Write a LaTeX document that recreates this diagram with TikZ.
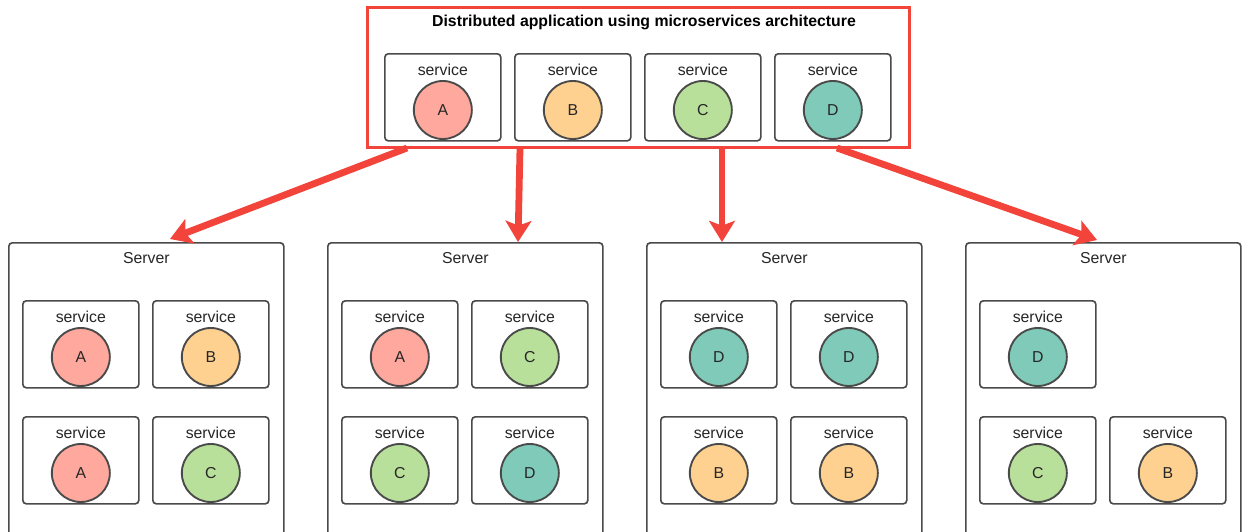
\documentclass[tikz,border=0pt]{standalone}
\usepackage{fontspec}
\setmainfont{Liberation Sans}
\usepackage{xcolor}
\definecolor{svcRed}{HTML}{FFA99E}
\definecolor{svcOrange}{HTML}{FFD191}
\definecolor{svcGreen}{HTML}{B8E09B}
\definecolor{svcTeal}{HTML}{80CAB9}
\definecolor{boxLine}{HTML}{4A4A4A}
\definecolor{flowRed}{HTML}{F2443A}
\usetikzlibrary{arrows.meta,positioning,calc}

% one service: box, label and ball (id, left x, top y, letter, colour)
\newcommand{\service}[5]{%
  \node[svcbox, anchor=north west] (#1) at (#2,#3) {};
  \node[svctext] (#1-txt) at ($(#1.north)+(0,17)$) {service};
  \node[svcball, fill=#5] (#1-ball) at ($(#1.north)+(0,57)$) {#4};
}

\begin{document}
\begin{tikzpicture}[
  x=0.03cm, y=-0.03cm,
  font=\fontsize{13.5}{16}\selectfont,
  svcbox/.style={draw=boxLine, line width=1.4pt, rounded corners=3pt, fill=white, minimum width=3.48cm, minimum height=2.61cm, inner sep=0pt},
  svctext/.style={inner sep=0pt, text=black!85},
  svcball/.style={circle, draw=boxLine, line width=1.6pt, minimum size=1.74cm, inner sep=0pt, text=black!85},
  serverbox/.style={draw=boxLine, line width=1.4pt, rounded corners=3pt, fill=white, minimum width=8.25cm, minimum height=9.3cm, inner sep=0pt},
  flow/.style={draw=flowRed, line width=5.8pt, -{Stealth[length=18pt, width=22pt, inset=4pt]}}
]
\useasboundingbox (0,0) rectangle (1242,531);
\clip (0,0) rectangle (1242,531);

% Application box
\node[draw=flowRed, line width=2.8pt, fill=white, anchor=north west, minimum width=16.26cm, minimum height=4.2cm, inner sep=0pt] (app) at (366,6) {};
\node[font=\fontsize{13.5}{16}\selectfont\bfseries] (apptitle) at (644,22) {Distributed application using microservices architecture};
\service{appA}{384}{53}{A}{svcRed}
\service{appB}{514}{53}{B}{svcOrange}
\service{appC}{644}{53}{C}{svcGreen}
\service{appD}{774}{53}{D}{svcTeal}

% Servers
\node[serverbox, anchor=north west] (srv1) at (8,242) {};
\node[serverbox, anchor=north west] (srv2) at (327,242) {};
\node[serverbox, anchor=north west] (srv3) at (646,242) {};
\node[serverbox, anchor=north west] (srv4) at (965,242) {};
\node[svctext] (srv1-txt) at ($(srv1.north)+(0,16)$) {Server};
\node[svctext] (srv2-txt) at ($(srv2.north)+(0,16)$) {Server};
\node[svctext] (srv3-txt) at ($(srv3.north)+(0,16)$) {Server};
\node[svctext] (srv4-txt) at ($(srv4.north)+(0,16)$) {Server};

% Services on server 1
\service{s1a}{22}{300}{A}{svcRed}
\service{s1b}{152}{300}{B}{svcOrange}
\service{s1c}{22}{416}{A}{svcRed}
\service{s1d}{152}{416}{C}{svcGreen}

% Services on server 2
\service{s2a}{341}{300}{A}{svcRed}
\service{s2b}{471}{300}{C}{svcGreen}
\service{s2c}{341}{416}{C}{svcGreen}
\service{s2d}{471}{416}{D}{svcTeal}

% Services on server 3
\service{s3a}{660}{300}{D}{svcTeal}
\service{s3b}{790}{300}{D}{svcTeal}
\service{s3c}{660}{416}{B}{svcOrange}
\service{s3d}{790}{416}{B}{svcOrange}

% Services on server 4
\service{s4a}{979}{300}{D}{svcTeal}
\service{s4c}{979}{416}{C}{svcGreen}
\service{s4d}{1109}{416}{B}{svcOrange}

% Deployment arrows
\coordinate (out1) at (407,148);
\coordinate (out2) at (520,148);
\coordinate (out3) at (722,148);
\coordinate (out4) at (837,148);
\coordinate (in1) at (170,239);
\coordinate (in2) at (518,242);
\coordinate (in3) at (722,242);
\coordinate (in4) at (1097,240);
\draw[flow] (out1) -- (in1);
\draw[flow] (out2) -- (in2);
\draw[flow] (out3) -- (in3);
\draw[flow] (out4) -- (in4);

\end{tikzpicture}
\end{document}
